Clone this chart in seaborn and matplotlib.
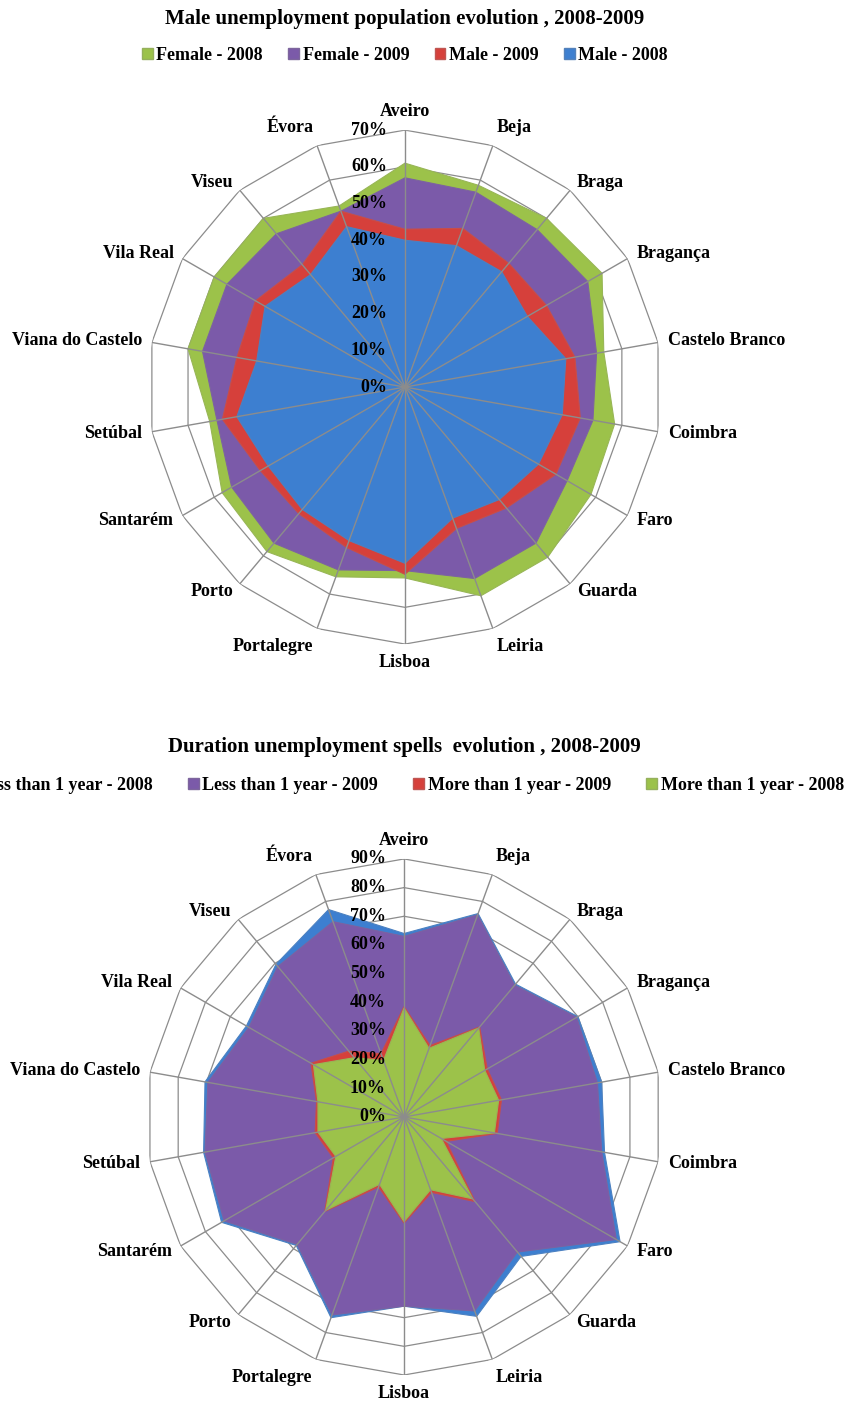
import numpy as np
import matplotlib
matplotlib.use("Agg")
import matplotlib.pyplot as plt
from matplotlib.patches import Patch
import seaborn as sns

# districts, clockwise from the top
districts = ["Aveiro", "Beja", "Braga", "Bragança", "Castelo Branco", "Coimbra",
             "Faro", "Guarda", "Leiria", "Lisboa", "Portalegre", "Porto",
             "Santarém", "Setúbal", "Viana do Castelo", "Vila Real", "Viseu", "Évora"]

# chart 1 (%)
female_2008 = [61, 58.5, 60, 62, 55, 58, 58.5, 60.5, 60.5, 52, 55, 58.5, 57.5, 54, 60, 60, 60, 52.5]
female_2009 = [57, 56.5, 56, 57.5, 53, 52, 51, 55.5, 55.5, 50, 53, 55.5, 54.5, 52, 56, 56, 54.5, 51]
male_2009 = [43, 46, 44, 44.5, 47, 48.5, 47.5, 43, 41, 51, 46.5, 45, 45.5, 50.5, 46.5, 47, 43.5, 51]
male_2008 = [40, 41, 41, 38.5, 44.5, 43.5, 42, 40, 38, 48, 44.5, 43.5, 43, 46.5, 41, 44, 40, 46.5]

# chart 2 (%)
less_2008 = [64, 75.5, 60.5, 70, 70, 71, 87, 63.5, 74, 66, 74.5, 58.5, 73.5, 71, 70.5, 63.5, 69.5, 77]
less_2009 = [63, 75, 60, 69.5, 68.5, 70, 85.5, 61.5, 72, 66, 73.5, 58, 72.5, 70.5, 69.5, 62.5, 68.5, 72.5]
more_2009 = [38.5, 26.5, 41, 33.5, 34.5, 33, 17, 38.5, 28, 37, 26, 43, 28.5, 31.5, 31, 37.5, 30, 23.5]
more_2008 = [38, 25.5, 40.5, 32.5, 33.5, 32, 15, 37.3, 27, 36.5, 25, 42.5, 27.5, 30.5, 30.5, 36.5, 27, 21]

sns.set_theme(style="white")
plt.rcParams['font.family'] = ['Liberation Serif', 'DejaVu Serif']
plt.rcParams['font.weight'] = 'bold'
plt.rcParams['text.color'] = 'black'

GREEN, PURPLE, RED, BLUE = sns.color_palette(["#9cc24a", "#7b5aa9", "#d6403b", "#3d7fd0"])
GRID = "#8c8c8c"

theta = np.deg2rad(np.arange(len(districts)) * 360 / len(districts))
theta_c = np.append(theta, theta[0])


def close(v):
    return np.append(v, v[0])


def radar(ax, series, rmax):
    ax.set_theta_zero_location('N')
    ax.set_theta_direction(-1)
    ax.set_ylim(0, rmax)
    ax.set_xticks([])
    ax.set_yticks([])
    ax.grid(False)
    ax.spines['polar'].set_visible(False)
    ax.patch.set_alpha(0)

    # polygon rings below the areas, spokes above
    for r in range(10, rmax + 1, 10):
        ax.plot(theta_c, [r] * len(theta_c), color=GRID, lw=0.9, zorder=0)
    for t in theta:
        ax.plot([t, t], [0, rmax], color=GRID, lw=1.0, zorder=6)

    for z, (vals, col) in enumerate(series):
        ax.fill(theta_c, close(vals), color=col, lw=0.8,
                edgecolor=sns.desaturate(col, 0.8), zorder=1 + z)

    for r in range(0, rmax + 1, 10):
        ax.annotate(f"{r}%", xy=(0, r), xytext=(-13, 0), textcoords='offset points',
                    ha='right', va='center', fontsize=13, zorder=7)

    for t, name in zip(theta, districts):
        s, c = np.sin(t), np.cos(t)
        ha = 'left' if s > 0.1 else ('right' if s < -0.1 else 'center')
        va = 'bottom' if c > 0.9 else ('top' if c < -0.9 else 'center')
        ax.text(t, rmax * 1.04, name, ha=ha, va=va, fontsize=13)


fig = plt.figure(figsize=(8.47, 14.05), dpi=100)

ax1 = fig.add_axes([0.1747, 0.5416, 0.6068, 0.3658], projection='polar')
radar(ax1, [(female_2008, GREEN), (female_2009, PURPLE), (male_2009, RED), (male_2008, BLUE)], 70)

ax2 = fig.add_axes([0.1724, 0.02135, 0.6093, 0.3673], projection='polar')
radar(ax2, [(less_2008, BLUE), (less_2009, PURPLE), (more_2009, RED), (more_2008, GREEN)], 90)

fig.text(0.478, 0.9865, "Male unemployment population evolution , 2008-2009",
         ha='center', va='center', fontsize=15)
fig.text(0.478, 0.4680, "Duration unemployment spells  evolution , 2008-2009",
         ha='center', va='center', fontsize=15)


def legend(labels, colors, y, x, size, spacing):
    handles = [Patch(facecolor=c, edgecolor=sns.desaturate(c, 0.7), label=l)
               for l, c in zip(labels, colors)]
    fig.legend(handles=handles, loc='center', bbox_to_anchor=(x, y), ncol=4,
               frameon=False, fontsize=size, handlelength=0.6, handleheight=0.6,
               handletextpad=0.2, columnspacing=spacing)


legend(["Female - 2008", "Female - 2009", "Male - 2009", "Male - 2008"],
       [GREEN, PURPLE, RED, BLUE], 0.9605, 0.478, 13, 1.4)
# the first entry runs off the left edge, as in the source chart
legend(["Less than 1 year - 2008", "Less than 1 year - 2009",
        "More than 1 year - 2009", "More than 1 year - 2008"],
       [BLUE, PURPLE, RED, GREEN], 0.4410, 0.476, 13, 1.95)

fig.savefig("out.png", dpi=100)
